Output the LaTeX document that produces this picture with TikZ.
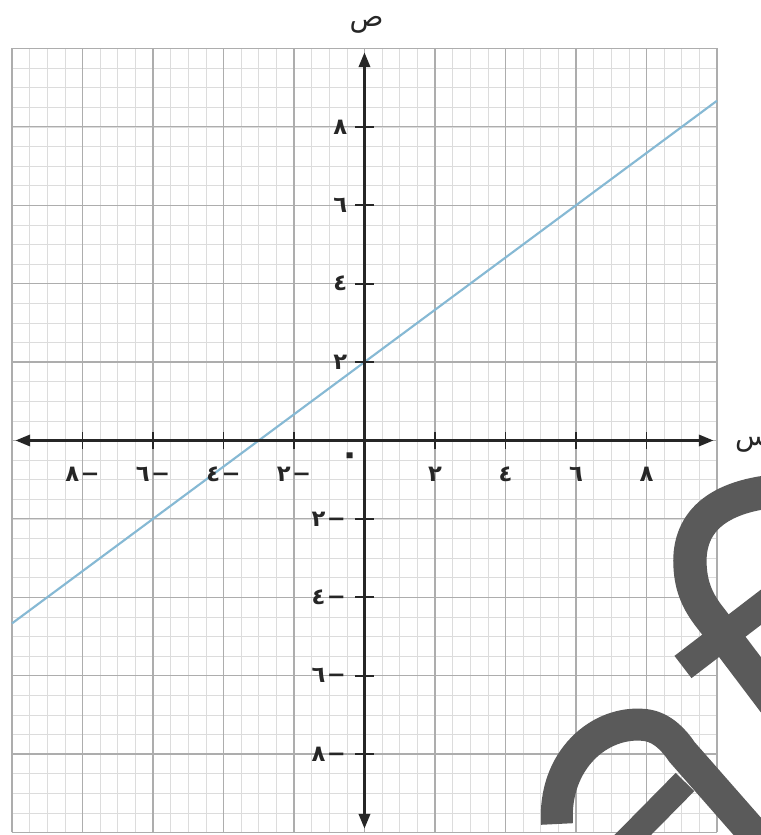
\documentclass[tikz,border=0pt]{standalone}
\usepackage{fontspec}
\usetikzlibrary{arrows.meta}
\newfontfamily\arabicfont[Script=Arabic]{DejaVu Sans}
\TeXXeTstate=1
\definecolor{axiscol}{HTML}{262626}
\definecolor{linecol}{HTML}{86B9D4}
\definecolor{majcol}{HTML}{ADADAD}
\definecolor{mincol}{HTML}{DCDCDC}
\definecolor{wmcol}{HTML}{5A5A5A}
\begin{document}
\begin{tikzpicture}[x=26.4375pt,y=29.4pt,
  minorgrid/.style={draw=mincol,line width=0.5pt},
  majorgrid/.style={draw=majcol,line width=0.9pt},
  axisline/.style={draw=axiscol,line width=1.8pt,{Triangle[length=11pt,width=8.5pt]}-{Triangle[length=11pt,width=8.5pt]}},
  tickmark/.style={draw=axiscol,line width=1.3pt},
  numlabel/.style={font=\arabicfont\bfseries\fontsize{17}{18}\selectfont,text=axiscol,inner sep=0pt},
  axislabel/.style={font=\arabicfont\fontsize{21}{22}\selectfont,text=axiscol,inner sep=0pt},
  graphline/.style={draw=linecol,line width=1.6pt},
  wm/.style={draw=wmcol,line width=24pt}]
\useasboundingbox[fill=white] (-10.34,-10.064) rectangle (11.248,11.237);
% grid
\foreach \k in {-20,...,20} {
  \draw[minorgrid] (\k/2,-10) -- (\k/2,10);
  \draw[minorgrid] (-10,\k/2) -- (10,\k/2);
}
\foreach \k in {-10,-8,...,10} {
  \draw[majorgrid] (\k,-10) -- (\k,10);
  \draw[majorgrid] (-10,\k) -- (10,\k);
}
% graph
\coordinate (L1) at (-10,-14/3);
\coordinate (L2) at (10,26/3);
\draw[graphline] (L1) -- (L2);
% axes
\coordinate (xL) at (-9.9,0);
\coordinate (xR) at (9.9,0);
\coordinate (yB) at (0,-9.9);
\coordinate (yT) at (0,9.9);
\draw[axisline] (xL) -- (xR);
\draw[axisline] (yB) -- (yT);
\foreach \v in {-8,-6,-4,-2,2,4,6,8} {
  \draw[tickmark] (\v,-0.22) -- (\v,0.22);
  \draw[tickmark] (-0.26,\v) -- (0.26,\v);
}
% labels
\foreach \v/\d [count=\i] in {2/٢,4/٤,6/٦,8/٨} {
  \node[numlabel] (xp\i) at (\v,-0.85) {\d};
  \node[numlabel] (xn\i) at (-\v,-0.85) {\d\kern1pt−};
  \node[numlabel,anchor=east] (yp\i) at (-0.48,\v) {\d};
  \node[numlabel,anchor=east] (yn\i) at (-0.52,-\v) {\d\kern1pt−};
}
\node[numlabel,font=\arabicfont\bfseries\fontsize{26}{26}\selectfont] (zero) at (-0.41,-0.47) {٠};
\node[axislabel] (ylab) at (0.06,10.6) {\beginR ص\endR};
\node[axislabel,anchor=west] (xlab) at (10.51,-0.08) {\beginR س\endR};
% watermark strokes
\begin{scope}[shift={(-10.34,11.237)},x=0.75pt,y=-0.75pt]
  \draw[wm,line width=25pt] (790,490) .. controls (720,493) and (688,520) .. (690,565) .. controls (691,590) and (700,605) .. (712,620) -- (780,710);
  \draw[wm,line width=21pt] (683,667) -- (790,585);
  \draw[wm] (557,824) .. controls (553,760) and (600,720) .. (645,725) .. controls (662,727) and (674,740) .. (682,752) -- (790,875);
  \draw[wm,line width=19.5pt] (615,853) -- (685,782);
\end{scope}
\end{tikzpicture}
\end{document}
